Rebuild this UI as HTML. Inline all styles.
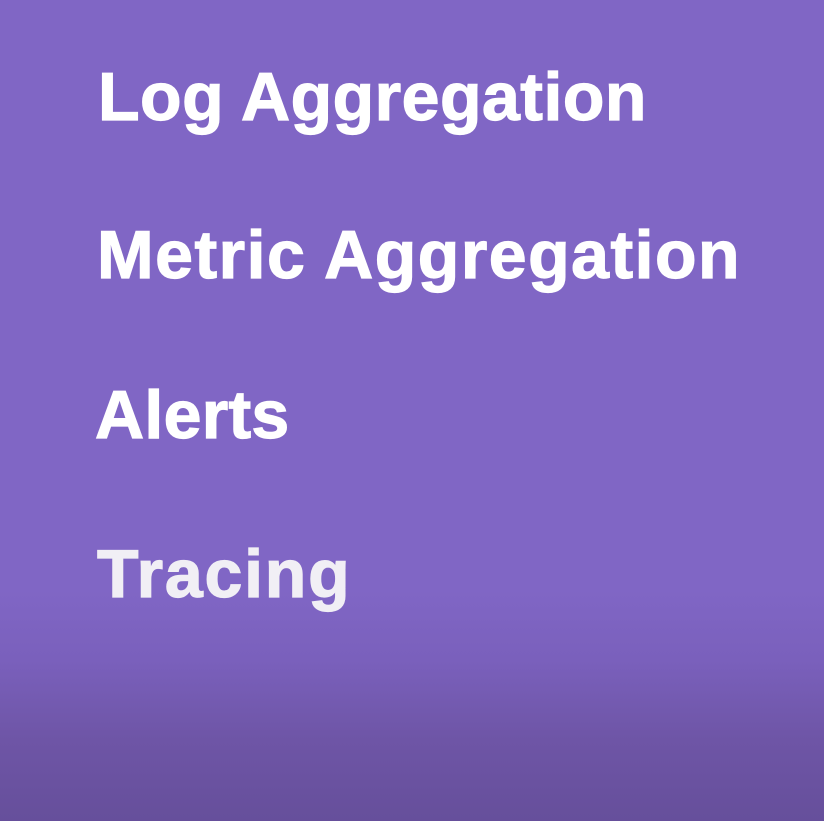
<!DOCTYPE html>
<html><head><style>
html,body{margin:0;padding:0;}
body{width:824px;height:821px;overflow:hidden;position:relative;
background:linear-gradient(to bottom,#8066c5 0px,#8066c5 590px,#7a60bc 660px,#6e55a6 740px,#664f9b 821px);}
.t{position:absolute;font-family:"Liberation Sans",sans-serif;font-weight:bold;font-size:68px;line-height:68px;color:#fff;letter-spacing:1.5px;white-space:nowrap;-webkit-text-stroke:1.2px currentColor;}
</style></head><body>
<div class="t" style="left:98px;top:63px;letter-spacing:0.5px;">Log Aggregation</div>
<div class="t" style="left:97px;top:221px;">Metric Aggregation</div>
<div class="t" style="left:95px;top:381px;letter-spacing:0.3px;">Alerts</div>
<div class="t" style="left:97px;top:540px;color:#f1eff5;letter-spacing:1.8px;">Tracing</div>
</body></html>
